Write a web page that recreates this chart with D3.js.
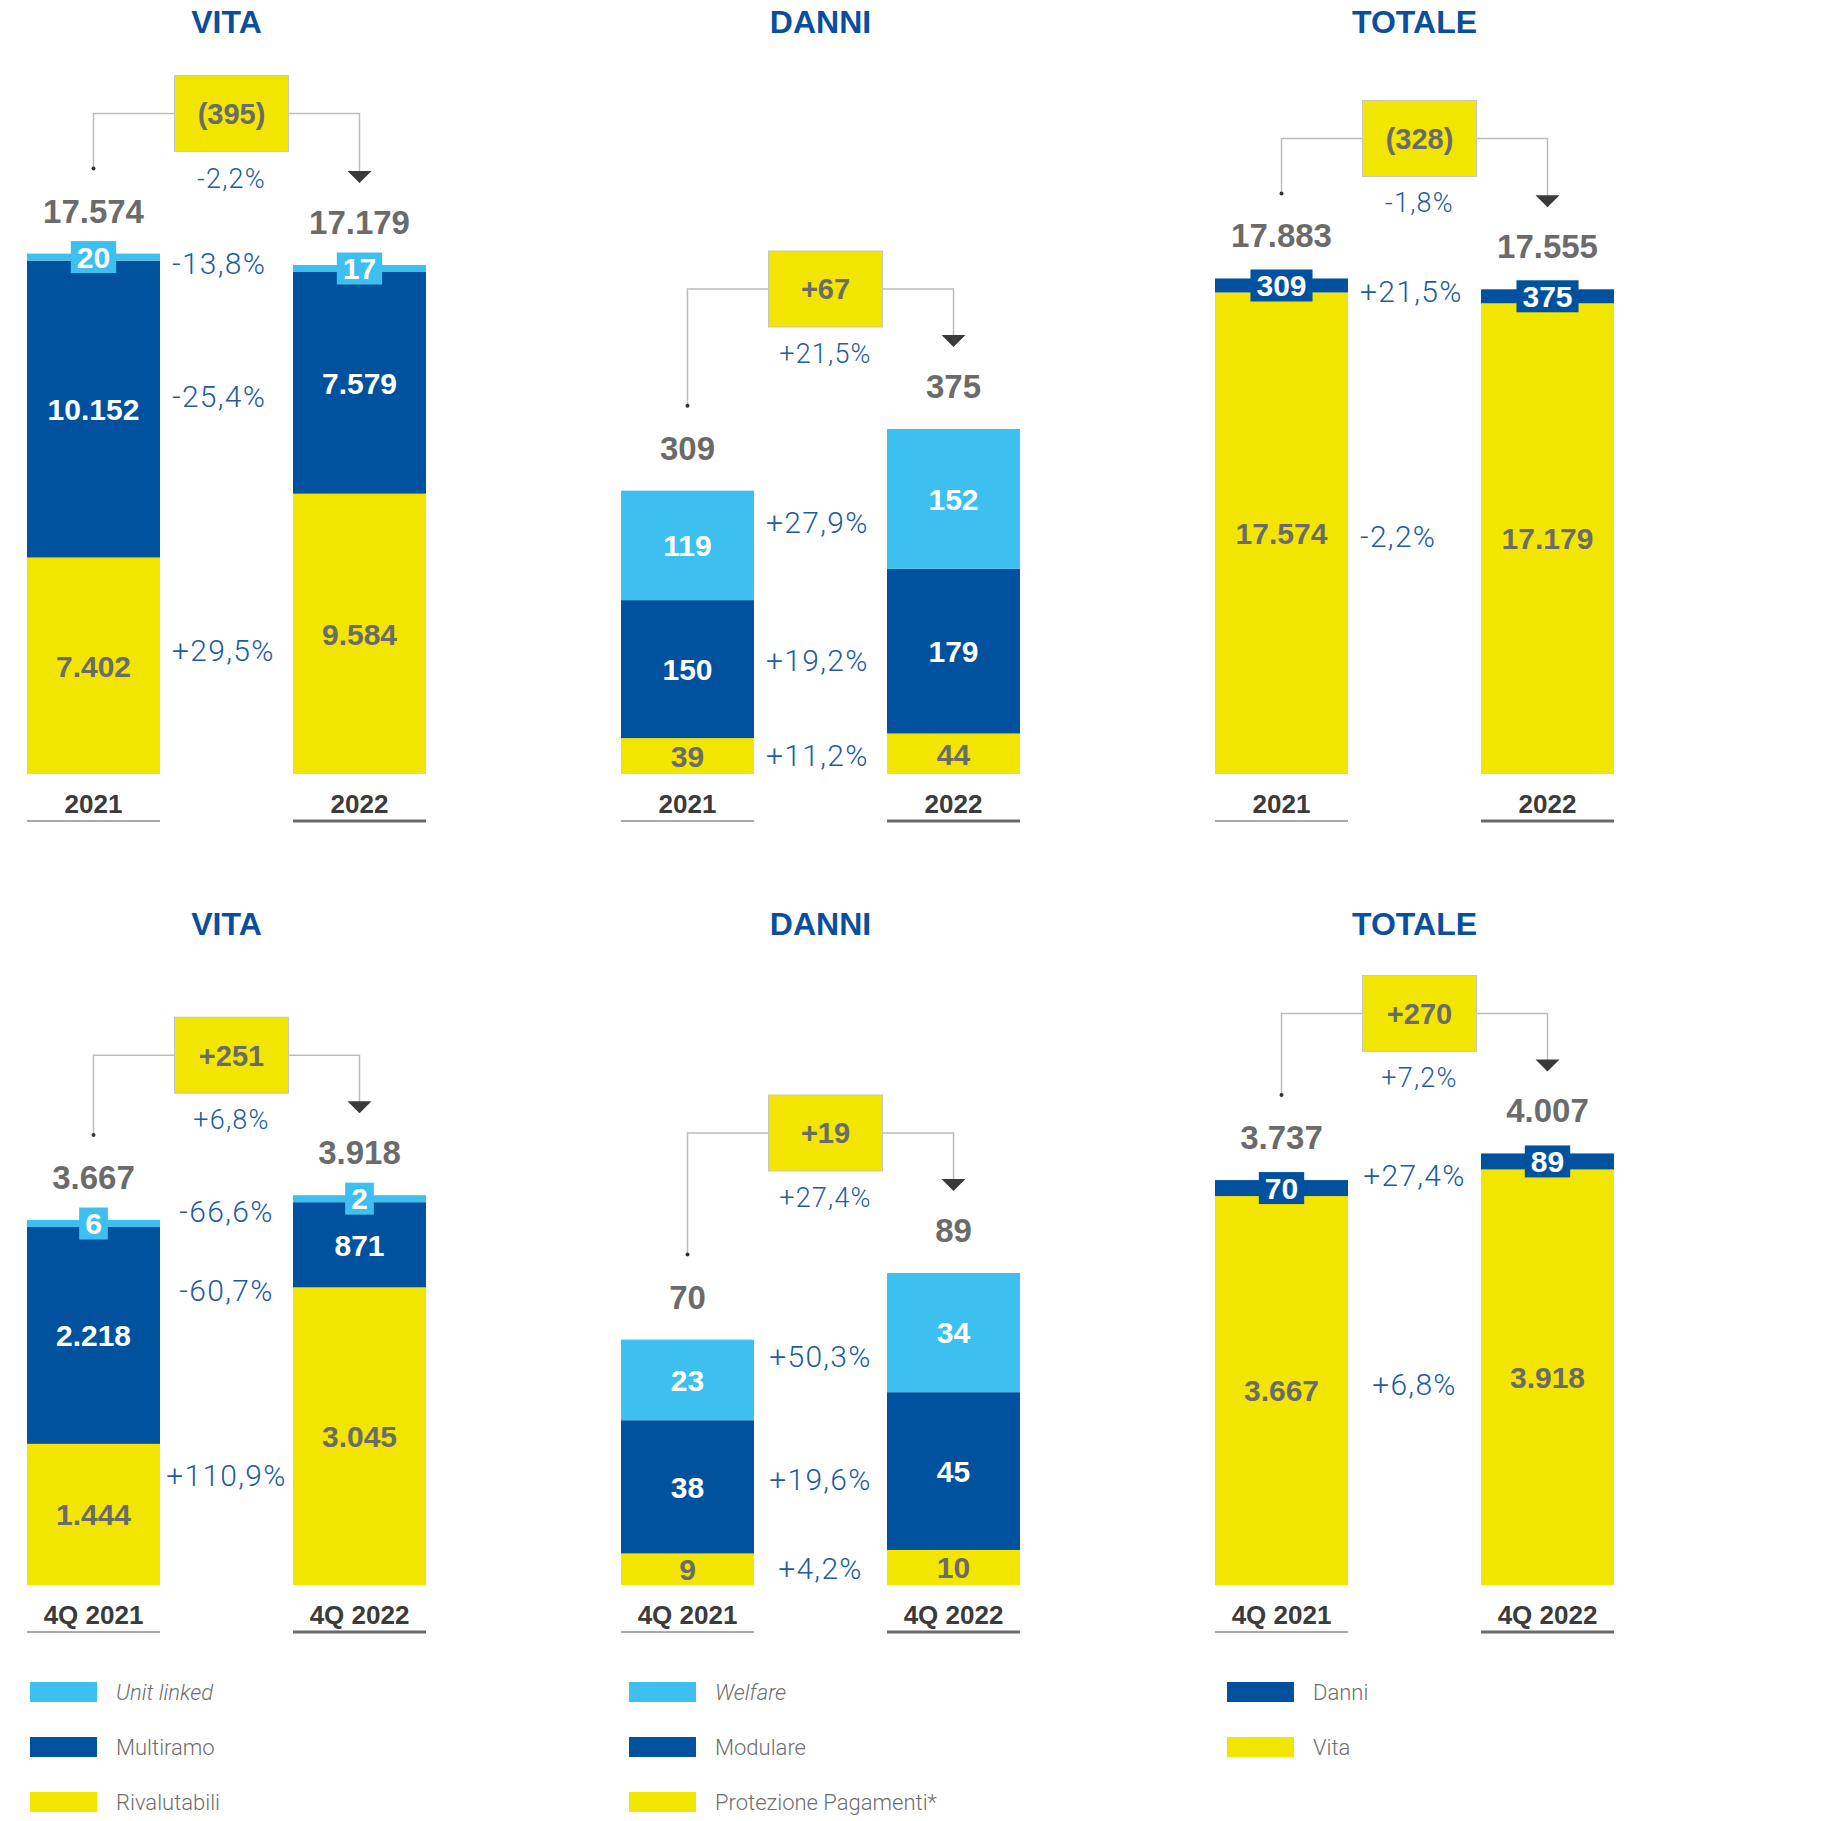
<!DOCTYPE html>
<html><head><meta charset="utf-8">
<script src="https://cdn.jsdelivr.net/npm/d3@7"></script>
<style>body{margin:0;background:#fff}svg{display:block}</style>
</head><body>
<svg id="chart" width="1834" height="1821"></svg>
<script>
// ---------------- DATA ----------------
const yearCats = ["2021", "2022"];
const quarterCats = ["4Q 2021", "4Q 2022"];
const panelTitles = ["VITA", "DANNI", "TOTALE"];

// series names, bottom to top of each stack
const vitaSeriesNames = ["Rivalutabili", "Multiramo", "Unit linked"];
const danniSeriesNames = ["Protezione Pagamenti*", "Modulare", "Welfare"];
const totaleSeriesNames = ["Vita", "Danni"];
const italicNames = ["Unit linked", "Welfare"];

// Full year
const vitaRivalutabili = [7402, 9584];
const vitaMultiramo = [10152, 7579];
const vitaUnitLinked = [20, 17];
const vitaTotals = [17574, 17179];
const vitaSegmentChange = ["+29,5%", "-25,4%", "-13,8%"];
const vitaDelta = -395, vitaDeltaPct = "-2,2%";

const danniProtezione = [39, 44];
const danniModulare = [150, 179];
const danniWelfare = [119, 152];
const danniTotals = [309, 375];
const danniSegmentChange = ["+11,2%", "+19,2%", "+27,9%"];
const danniDelta = 67, danniDeltaPct = "+21,5%";

const totaleVita = [17574, 17179];
const totaleDanni = [309, 375];
const totaleTotals = [17883, 17555];
const totaleSegmentChange = ["-2,2%", "+21,5%"];
const totaleDelta = -328, totaleDeltaPct = "-1,8%";

// Fourth quarter
const vita4QRivalutabili = [1444, 3045];
const vita4QMultiramo = [2218, 871];
const vita4QUnitLinked = [6, 2];
const vita4QTotals = [3667, 3918];
const vita4QSegmentChange = ["+110,9%", "-60,7%", "-66,6%"];
const vita4QDelta = 251, vita4QDeltaPct = "+6,8%";

const danni4QProtezione = [9, 10];
const danni4QModulare = [38, 45];
const danni4QWelfare = [23, 34];
const danni4QTotals = [70, 89];
const danni4QSegmentChange = ["+4,2%", "+19,6%", "+50,3%"];
const danni4QDelta = 19, danni4QDeltaPct = "+27,4%";

const totale4QVita = [3667, 3918];
const totale4QDanni = [70, 89];
const totale4QTotals = [3737, 4007];
const totale4QSegmentChange = ["+6,8%", "+27,4%"];
const totale4QDelta = 270, totale4QDeltaPct = "+7,2%";

// ---------------- STYLE ----------------
const YELLOW = "#F2E500", BLUE = "#00529F", CYAN = "#3DBFEF";
const TITLE_BLUE = "#0B4F9C", PCT_BLUE = "#215C9F", GRAY = "#6B6B6B", DARK = "#3B3B3B";
const BOLD = "'Liberation Sans', Arial, Helvetica, sans-serif";
const LIGHT = "Roboto, 'Liberation Sans', Arial, sans-serif";
const vitaColors = [YELLOW, BLUE, CYAN];
const danniColors = [YELLOW, BLUE, CYAN];
const totaleColors = [YELLOW, BLUE];

const itFmt = d3.formatLocale({decimal: ",", thousands: ".", grouping: [3], currency: ["", "€"]}).format(",d");
const fmtDelta = v => v < 0 ? "(" + itFmt(-v) + ")" : "+" + itFmt(v);

function mkSeries(names, colors, arrays) {
  return names.map((n, i) => ({name: n, color: colors[i], values: arrays[i]}));
}

const rows = [
  {cats: yearCats, base: 774, titleY: 33, pctAlign: "start", panels: [
    {title: panelTitles[0], series: mkSeries(vitaSeriesNames, vitaColors, [vitaRivalutabili, vitaMultiramo, vitaUnitLinked]),
     totals: vitaTotals, change: vitaSegmentChange, delta: vitaDelta, deltaPct: vitaDeltaPct, maxPx: 514, minH: 7},
    {title: panelTitles[1], series: mkSeries(danniSeriesNames, danniColors, [danniProtezione, danniModulare, danniWelfare]),
     totals: danniTotals, change: danniSegmentChange, delta: danniDelta, deltaPct: danniDeltaPct, maxPx: 345, minH: 7},
    {title: panelTitles[2], series: mkSeries(totaleSeriesNames, totaleColors, [totaleVita, totaleDanni]),
     totals: totaleTotals, change: totaleSegmentChange, delta: totaleDelta, deltaPct: totaleDeltaPct, maxPx: 490, minH: 14}
  ]},
  {cats: quarterCats, base: 1585, titleY: 935, pctAlign: "middle", panels: [
    {title: panelTitles[0], series: mkSeries(vitaSeriesNames, vitaColors, [vita4QRivalutabili, vita4QMultiramo, vita4QUnitLinked]),
     totals: vita4QTotals, change: vita4QSegmentChange, delta: vita4QDelta, deltaPct: vita4QDeltaPct, maxPx: 383, minH: 7},
    {title: panelTitles[1], series: mkSeries(danniSeriesNames, danniColors, [danni4QProtezione, danni4QModulare, danni4QWelfare]),
     totals: danni4QTotals, change: danni4QSegmentChange, delta: danni4QDelta, deltaPct: danni4QDeltaPct, maxPx: 312, minH: 7},
    {title: panelTitles[2], series: mkSeries(totaleSeriesNames, totaleColors, [totale4QVita, totale4QDanni]),
     totals: totale4QTotals, change: totale4QSegmentChange, delta: totale4QDelta, deltaPct: totale4QDeltaPct, maxPx: 425, minH: 16}
  ]}
];

const svg = d3.select("#chart");
const PANEL_STEP = 594;

rows.forEach(row => {
  row.panels.forEach((p, pi) => {
    const off = pi * PANEL_STEP;
    const g = svg.append("g");
    const x = d3.scaleBand().domain(row.cats).range([off + 27, off + 426]).paddingInner(0.5).paddingOuter(0);
    const bw = x.bandwidth();
    const y = d3.scaleLinear().domain([0, d3.max(p.totals)]).range([row.base, row.base - p.maxPx]);

    // stack segments (with minimum visible height)
    const stacks = row.cats.map((c, i) => {
      let acc = row.base;
      return p.series.map(s => {
        const h = Math.max(row.base - y(s.values[i]), p.minH);
        const seg = {cat: c, i, s, v: s.values[i], y0: acc, y1: acc - h, h};
        acc -= h;
        return seg;
      });
    });
    const tops = stacks.map(st => st[st.length - 1].y1);
    const cx = row.cats.map(c => x(c) + bw / 2);
    const mid = (cx[0] + cx[1]) / 2;

    // title
    g.append("text").attr("x", mid).attr("y", row.titleY).attr("text-anchor", "middle")
      .attr("font-family", BOLD).attr("font-weight", "bold").attr("font-size", 32)
      .attr("fill", TITLE_BLUE).text(p.title);

    // bars
    stacks.forEach(st => {
      st.forEach(seg => {
        g.append("rect").attr("x", x(seg.cat)).attr("y", seg.y1).attr("width", bw).attr("height", seg.h)
          .attr("fill", seg.s.color);
      });
    });

    // segment labels
    stacks.forEach(st => {
      st.forEach(seg => {
        const cy = (seg.y0 + seg.y1) / 2;
        const c = x(seg.cat) + bw / 2;
        const onYellow = seg.s.color === YELLOW;
        const lg = g.append("g");
        const t = lg.append("text").attr("x", c).attr("y", cy).attr("dy", "0.36em").attr("text-anchor", "middle")
          .attr("font-family", BOLD).attr("font-weight", "bold").attr("font-size", 30)
          .attr("fill", onYellow ? GRAY : "#fff").text(itFmt(seg.v));
        if (seg.h < 25) {
          const w = t.node().getComputedTextLength() + 12;
          lg.insert("rect", "text").attr("x", c - w / 2).attr("y", cy - 16).attr("width", w).attr("height", 32)
            .attr("fill", seg.s.color);
        }
      });
    });

    // totals above bars
    row.cats.forEach((c, i) => {
      g.append("text").attr("x", cx[i]).attr("y", tops[i] - 31).attr("text-anchor", "middle")
        .attr("font-family", BOLD).attr("font-weight", "bold").attr("font-size", 33)
        .attr("fill", GRAY).text(itFmt(p.totals[i]));
    });

    // segment change labels between bars
    p.series.forEach((s, k) => {
      const c0 = (stacks[0][k].y0 + stacks[0][k].y1) / 2;
      const c1 = (stacks[1][k].y0 + stacks[1][k].y1) / 2;
      const ty = (c0 + c1) / 2;
      const tx = row.pctAlign === "start" ? x(row.cats[0]) + bw + 12 : mid;
      g.append("text").attr("x", tx).attr("y", ty).attr("dy", "0.36em").attr("text-anchor", row.pctAlign)
        .attr("font-family", LIGHT).attr("font-weight", 300).attr("font-size", 30)
        .attr("letter-spacing", 1.3)
        .attr("fill", PCT_BLUE).text(p.change[k]);
    });

    // connector
    const lineY = Math.min(tops[0], tops[1]) - 140;
    const dotY = tops[0] - 85;
    const tipY = tops[1] - 82;
    const boxCx = mid + 5;
    g.append("path")
      .attr("d", `M${cx[0]},${dotY}V${lineY}H${cx[1]}V${tipY - 10}`)
      .attr("fill", "none").attr("stroke", "#BDBDBD").attr("stroke-width", 1.5);
    g.append("circle").attr("cx", cx[0]).attr("cy", dotY).attr("r", 2).attr("fill", "#333");
    g.append("path").attr("d", `M${cx[1] - 12},${tipY - 12}L${cx[1] + 12},${tipY - 12}L${cx[1]},${tipY}Z`)
      .attr("fill", "#3A3A3A");
    g.append("rect").attr("x", boxCx - 57).attr("y", lineY - 38).attr("width", 114).attr("height", 76)
      .attr("fill", YELLOW).attr("stroke", "#C8C8B8").attr("stroke-width", 1);
    g.append("text").attr("x", boxCx).attr("y", lineY).attr("dy", "0.36em").attr("text-anchor", "middle")
      .attr("font-family", BOLD).attr("font-weight", "bold").attr("font-size", 29)
      .attr("fill", GRAY).text(fmtDelta(p.delta));
    g.append("text").attr("x", boxCx).attr("y", lineY + 74).attr("text-anchor", "middle")
      .attr("font-family", LIGHT).attr("font-weight", 300).attr("font-size", 27)
      .attr("letter-spacing", 1.2)
      .attr("fill", PCT_BLUE).text(p.deltaPct);

    // category labels + underline
    row.cats.forEach((c, i) => {
      g.append("text").attr("x", cx[i]).attr("y", row.base + 39).attr("text-anchor", "middle")
        .attr("font-family", BOLD).attr("font-weight", "bold").attr("font-size", 26)
        .attr("fill", DARK).text(c);
      g.append("line").attr("x1", x(c)).attr("x2", x(c) + bw)
        .attr("y1", row.base + 47).attr("y2", row.base + 47)
        .attr("stroke", i === 0 ? "#A8A8A8" : "#6A6A6A").attr("stroke-width", i === 0 ? 1.8 : 3);
    });
  });
});

// legends
const legendX = [30, 629, 1227];
const legendSets = [
  mkSeries(vitaSeriesNames, vitaColors, [[], [], []]),
  mkSeries(danniSeriesNames, danniColors, [[], [], []]),
  mkSeries(totaleSeriesNames, totaleColors, [[], []])
];
legendSets.forEach((set, li) => {
  const items = set.slice().reverse();
  items.forEach((it, k) => {
    const cy = 1692 + k * 55;
    svg.append("rect").attr("x", legendX[li]).attr("y", cy - 10).attr("width", 67).attr("height", 20)
      .attr("fill", it.color);
    svg.append("text").attr("x", legendX[li] + 86).attr("y", cy).attr("dy", "0.36em")
      .attr("font-family", LIGHT).attr("font-weight", 300).attr("font-size", 22)
      .attr("font-style", italicNames.includes(it.name) ? "italic" : "normal")
      .attr("fill", "#6E6E6E").text(it.name);
  });
});
</script>
</body></html>
